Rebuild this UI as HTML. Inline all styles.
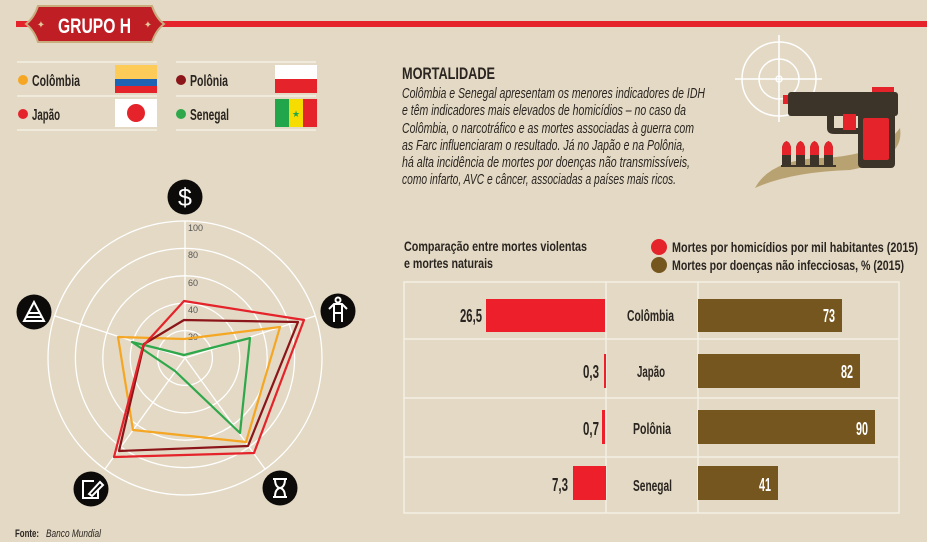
<!DOCTYPE html>
<html><head><meta charset="utf-8"><style>
body{margin:0;background:#e3d9c5;}
svg{display:block;font-family:"Liberation Sans Narrow","Liberation Sans",sans-serif;}
</style></head><body>
<svg width="927" height="542" viewBox="0 0 927 542" xmlns="http://www.w3.org/2000/svg">
<rect width="927" height="542" fill="#e3d9c5"/>
<rect x="16" y="21" width="911" height="6" fill="#e4232a"/>
<path d="M38,6 H152 Q156,18 164,24 Q156,30 152,42 H38 Q34,30 26,24 Q34,18 38,6Z" fill="#be1e24" stroke="#c9ad7f" stroke-width="2"/>
<text x="58" y="33" font-size="21" font-weight="bold" fill="#fff" textLength="73" lengthAdjust="spacingAndGlyphs">GRUPO H</text>
<text x="41" y="28" font-size="10" fill="#e3c79a" text-anchor="middle">✦</text>
<text x="148" y="28" font-size="10" fill="#e3c79a" text-anchor="middle">✦</text>
<g stroke="#f4efe5" stroke-width="1.5">
<line x1="17" y1="62" x2="157" y2="62"/><line x1="17" y1="96" x2="157" y2="96"/><line x1="17" y1="130" x2="157" y2="130"/>
<line x1="176" y1="62" x2="316" y2="62"/><line x1="176" y1="96" x2="316" y2="96"/><line x1="176" y1="130" x2="316" y2="130"/>
</g>
<g font-size="16" font-weight="bold" fill="#2a2520">
<circle cx="23" cy="80" r="5" fill="#f5a623"/><text x="32" y="86" textLength="48" lengthAdjust="spacingAndGlyphs">Colômbia</text>
<circle cx="23" cy="114" r="5" fill="#e4232a"/><text x="32" y="120" textLength="28" lengthAdjust="spacingAndGlyphs">Japão</text>
<circle cx="181" cy="80" r="5" fill="#8b1518"/><text x="190" y="86" textLength="38" lengthAdjust="spacingAndGlyphs">Polônia</text>
<circle cx="181" cy="114" r="5" fill="#2ea84a"/><text x="190" y="120" textLength="39" lengthAdjust="spacingAndGlyphs">Senegal</text>
</g>
<rect x="115" y="65" width="42" height="14" fill="#fdcb58"/><rect x="115" y="79" width="42" height="7" fill="#1f63b5"/><rect x="115" y="86" width="42" height="7" fill="#e4232a"/>
<rect x="115" y="99" width="42" height="28" fill="#fff"/><circle cx="136" cy="113" r="9" fill="#e4232a"/>
<rect x="275" y="65" width="42" height="14" fill="#fff"/><rect x="275" y="79" width="42" height="14" fill="#e4232a"/>
<rect x="275" y="99" width="14" height="28" fill="#22a64b"/><rect x="289" y="99" width="14" height="28" fill="#f7dc00"/><rect x="303" y="99" width="14" height="28" fill="#e4232a"/>
<text x="296" y="117" font-size="9" fill="#22a64b" text-anchor="middle">★</text>
<g fill="none" stroke="#fff" stroke-width="1.3">
<circle cx="185" cy="358" r="27.4"/><circle cx="185" cy="358" r="54.8"/><circle cx="185" cy="358" r="82.2"/><circle cx="185" cy="358" r="109.6"/><circle cx="185" cy="358" r="137"/>
<line x1="185" y1="358" x2="185" y2="221"/>
<line x1="185" y1="358" x2="315" y2="316"/>
<line x1="185" y1="358" x2="265" y2="469"/>
<line x1="185" y1="358" x2="105" y2="469"/>
<line x1="185" y1="358" x2="55" y2="316"/>
</g>
<g font-size="9" fill="#555">
<text x="188" y="231">100</text><text x="188" y="258">80</text><text x="188" y="286">60</text><text x="188" y="313">40</text><text x="188" y="340">20</text>
</g>
<g fill="none" stroke-width="2.2" stroke-linejoin="round">
<polygon points="184,355 250,338 240,433 175,371 132,342" stroke="#2ea84a"/>
<polygon points="184,339 280,327 246,442 133,430 118,337" stroke="#f5a623"/>
<polygon points="184,320 298,322 248,446 119,451 144,344" stroke="#8b1518"/>
<polygon points="184,301 304,320 254,453 114,457 143,346" stroke="#e4232a"/>
</g>
<g fill="#0d0b09">
<circle cx="185" cy="197" r="17.5"/><circle cx="338" cy="311" r="17.5"/><circle cx="34" cy="312" r="17.5"/><circle cx="91" cy="489" r="17.5"/><circle cx="280" cy="488" r="17.5"/>
</g>
<text x="185" y="206" font-size="25" fill="#fff" text-anchor="middle" font-family="Liberation Sans">$</text>
<g stroke="#fff" stroke-width="2" fill="none">
<circle cx="338" cy="300" r="2.5"/><path d="M329,309 L334,304 H342 L347,309 M334,304 V322 M342,304 V322 M334,313 H342"/>
<path d="M34,302 L24,321 H44Z M28,313 H40 M26,317 H42"/>
<path d="M94,481 H83 V498 H98 V490 M89,494 L100,482 L103,485 L92,496 Z"/>
<path d="M273,479 H287 M273,497 H287 M275,479 Q275,487 280,488 Q285,487 285,479 M275,497 Q275,489 280,488 Q285,489 285,497"/>
</g>
<text x="402" y="79" font-size="17" font-weight="bold" fill="#2a2520" textLength="93" lengthAdjust="spacingAndGlyphs">MORTALIDADE</text>
<g font-size="15" font-style="italic" fill="#2a2520">
<text x="402" y="98" textLength="303" lengthAdjust="spacingAndGlyphs">Colômbia e Senegal apresentam os menores indicadores de IDH</text>
<text x="402" y="115" textLength="284" lengthAdjust="spacingAndGlyphs">e têm indicadores mais elevados de homicídios – no caso da</text>
<text x="402" y="133" textLength="292" lengthAdjust="spacingAndGlyphs">Colômbia, o narcotráfico e as mortes associadas à guerra com</text>
<text x="402" y="150" textLength="283" lengthAdjust="spacingAndGlyphs">as Farc influenciaram o resultado. Já no Japão e na Polônia,</text>
<text x="402" y="167" textLength="288" lengthAdjust="spacingAndGlyphs">há alta incidência de mortes por doenças não transmissíveis,</text>
<text x="402" y="184" textLength="274" lengthAdjust="spacingAndGlyphs">como infarto, AVC e câncer, associadas a países mais ricos.</text>
</g>
<path d="M755,188 Q770,160 820,158 Q880,156 900,128 Q905,160 850,170 Q790,172 755,188Z" fill="#b9a272"/>
<g stroke="#fff" stroke-width="1.5" fill="none">
<circle cx="779" cy="79" r="37"/><circle cx="779" cy="79" r="20"/><circle cx="779" cy="79" r="3"/>
<line x1="735" y1="79" x2="822" y2="79"/><line x1="779" y1="35" x2="779" y2="122"/>
</g>
<rect x="783" y="95" width="7" height="9" fill="#e4232a"/>
<rect x="872" y="87" width="22" height="6" fill="#e4232a"/>
<rect x="788" y="92" width="110" height="24" rx="3" fill="#3d3429"/>
<path d="M827,114 V128 Q827,134 834,134 H858 V128 H834 V114Z" fill="#3d3429"/>
<rect x="843" y="114" width="13" height="16" fill="#e4232a"/>
<rect x="858" y="110" width="37" height="58" rx="4" fill="#3d3429"/>
<rect x="863" y="118" width="26" height="42" rx="2" fill="#e4232a"/>
<g>
<path d="M782,167 V149 Q782,143 786.5,141 Q791,143 791,149 V167Z" fill="#3d3429"/>
<path d="M796,167 V149 Q796,143 800.5,141 Q805,143 805,149 V167Z" fill="#3d3429"/>
<path d="M810,167 V149 Q810,143 814.5,141 Q819,143 819,149 V167Z" fill="#3d3429"/>
<path d="M824,167 V149 Q824,143 828.5,141 Q833,143 833,149 V167Z" fill="#3d3429"/>
<path d="M782,155 V149 Q782,143 786.5,141 Q791,143 791,149 V155Z M796,155 V149 Q796,143 800.5,141 Q805,143 805,149 V155Z M810,155 V149 Q810,143 814.5,141 Q819,143 819,149 V155Z M824,155 V149 Q824,143 828.5,141 Q833,143 833,149 V155Z" fill="#e4232a"/>
<rect x="781" y="165" width="55" height="2" fill="#3d3429"/>
</g>
<g font-size="14" font-weight="bold" fill="#2a2520">
<text x="404" y="251" textLength="183" lengthAdjust="spacingAndGlyphs">Comparação entre mortes violentas</text>
<text x="404" y="268" textLength="89" lengthAdjust="spacingAndGlyphs">e mortes naturais</text>
</g>
<circle cx="659" cy="247" r="8" fill="#e4232a"/><circle cx="659" cy="265" r="8" fill="#75561f"/>
<g font-size="14" font-weight="bold" fill="#2a2520">
<text x="672" y="252" textLength="246" lengthAdjust="spacingAndGlyphs">Mortes por homicídios por mil habitantes (2015)</text>
<text x="672" y="270" textLength="232" lengthAdjust="spacingAndGlyphs">Mortes por doenças não infecciosas, % (2015)</text>
</g>
<g stroke="#f4efe5" stroke-width="1.5" fill="none">
<rect x="404" y="282" width="495" height="231"/>
<line x1="404" y1="339" x2="899" y2="339"/><line x1="404" y1="398" x2="899" y2="398"/><line x1="404" y1="457" x2="899" y2="457"/>
<line x1="606" y1="282" x2="606" y2="513"/><line x1="698" y1="282" x2="698" y2="513"/>
</g>
<g fill="#ed1f2a">
<rect x="486" y="299" width="119" height="33"/><rect x="604" y="354" width="2" height="34"/><rect x="602" y="410" width="3" height="34"/><rect x="573" y="466" width="33" height="34"/>
</g>
<g fill="#75561f">
<rect x="698" y="299" width="144" height="33"/><rect x="698" y="354" width="162" height="34"/><rect x="698" y="410" width="177" height="34"/><rect x="698" y="466" width="80" height="34"/>
</g>
<g font-size="18" font-weight="bold" fill="#2a2520">
<text x="460" y="322" textLength="22" lengthAdjust="spacingAndGlyphs">26,5</text>
<text x="583" y="378" textLength="16" lengthAdjust="spacingAndGlyphs">0,3</text>
<text x="583" y="435" textLength="16" lengthAdjust="spacingAndGlyphs">0,7</text>
<text x="552" y="491" textLength="16" lengthAdjust="spacingAndGlyphs">7,3</text>
</g>
<g font-size="16" font-weight="bold" fill="#2a2520">
<text x="627" y="321" textLength="47" lengthAdjust="spacingAndGlyphs">Colômbia</text>
<text x="637" y="377" textLength="28" lengthAdjust="spacingAndGlyphs">Japão</text>
<text x="633" y="434" textLength="38" lengthAdjust="spacingAndGlyphs">Polônia</text>
<text x="633" y="491" textLength="39" lengthAdjust="spacingAndGlyphs">Senegal</text>
</g>
<g font-size="18" font-weight="bold" fill="#fff">
<text x="823" y="322" textLength="12" lengthAdjust="spacingAndGlyphs">73</text>
<text x="841" y="378" textLength="12" lengthAdjust="spacingAndGlyphs">82</text>
<text x="856" y="435" textLength="12" lengthAdjust="spacingAndGlyphs">90</text>
<text x="759" y="491" textLength="12" lengthAdjust="spacingAndGlyphs">41</text>
</g>
<text x="15" y="537" font-size="11" font-weight="bold" fill="#2a2520" textLength="24" lengthAdjust="spacingAndGlyphs">Fonte:</text>
<text x="46" y="537" font-size="11" font-style="italic" fill="#2a2520" textLength="55" lengthAdjust="spacingAndGlyphs">Banco Mundial</text>
</svg>
</body></html>
